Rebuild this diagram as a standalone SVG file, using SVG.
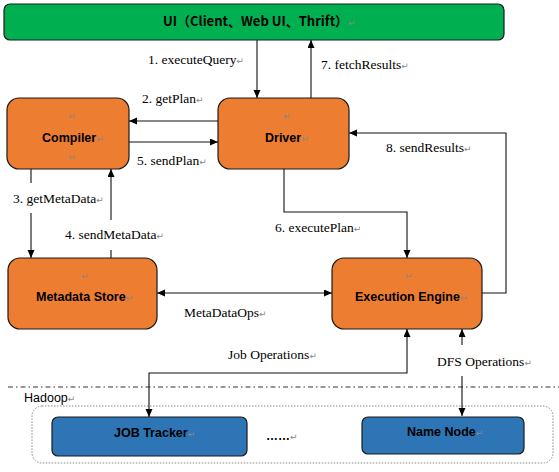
<svg xmlns="http://www.w3.org/2000/svg" width="559" height="472" viewBox="0 0 559 472">
<defs>
<marker id="ah" markerWidth="9" markerHeight="8" refX="8" refY="3.5" orient="auto-start-reverse" markerUnits="userSpaceOnUse">
<path d="M0,0 L8,3.5 L0,7 z" fill="#000"/>
</marker>
<style>
.box{stroke:#1a1a1a;stroke-width:1.2}
.orange{fill:#ED7D31}
.green{fill:#00B050}
.blue{fill:#2E75B6}
.nt{font-family:"Liberation Sans",Arial,sans-serif;font-weight:bold;font-size:12.5px;fill:#000}
.lb{font-family:"Liberation Serif","Times New Roman",serif;font-size:13.5px;fill:#000}
.pm{font-family:"DejaVu Sans",sans-serif;font-size:9px;fill:#888;font-weight:normal}
.cn{fill:none;stroke:#111;stroke-width:1.1}
.arr{marker-end:url(#ah)}
.both{marker-start:url(#ah);marker-end:url(#ah)}
</style>
</defs>
<rect width="559" height="472" fill="#fff"/>

<g id="hadoop-area">
<line x1="8" y1="387" x2="559" y2="387" stroke="#333" stroke-width="1" stroke-dasharray="5,3,1.5,3"/>
<rect x="32" y="406" width="521" height="57" rx="10" fill="none" stroke="#888" stroke-width="1" stroke-dasharray="1.5,1.5"/>
<text x="24" y="402" font-family="'Liberation Sans',Arial,sans-serif" font-size="12.5" fill="#000">Hadoop<tspan class="pm">↵</tspan></text>
</g>

<g id="connectors">
<path class="cn arr" d="M257,40 V98"/>
<path class="cn arr" d="M311,98 V40"/>
<path class="cn arr" d="M218,121 H129"/>
<path class="cn arr" d="M129,142 H218"/>
<path class="cn arr" d="M31,169 V183 M31,213 V258"/>
<path class="cn arr" d="M111,258 V250 M111,220 V169"/>
<path class="cn arr" d="M284,169 V212 H407 V258"/>
<path class="cn arr" d="M482,293 H506 V133 H349"/>
<path class="cn both" d="M157,293 H332"/>
<path class="cn both" d="M407,329 V373 H149 V417"/>
<path class="cn both" d="M462,329 V345 M462,376 V416"/>
</g>

<g id="labels">
<text class="lb" x="148" y="64">1. executeQuery<tspan class="pm">↵</tspan></text>
<text class="lb" x="321" y="69">7. fetchResults<tspan class="pm">↵</tspan></text>
<text class="lb" x="142" y="103">2. getPlan<tspan class="pm">↵</tspan></text>
<text class="lb" x="137" y="165">5. sendPlan<tspan class="pm">↵</tspan></text>
<text class="lb" x="13" y="203">3. getMetaData<tspan class="pm">↵</tspan></text>
<text class="lb" x="65" y="239">4. sendMetaData<tspan class="pm">↵</tspan></text>
<text class="lb" x="275" y="232">6. executePlan<tspan class="pm">↵</tspan></text>
<text class="lb" x="386" y="152">8. sendResults<tspan class="pm">↵</tspan></text>
<text class="lb" x="184" y="317">MetaDataOps<tspan class="pm">↵</tspan></text>
<text class="lb" x="228" y="359">Job Operations<tspan class="pm">↵</tspan></text>
<text class="lb" x="437" y="366">DFS Operations<tspan class="pm">↵</tspan></text>
</g>

<g id="ui">
<rect class="box green" x="4" y="4" width="500" height="36" rx="6"/>
<text x="163" y="26" font-family="'Noto Sans CJK SC','Liberation Sans',sans-serif" font-weight="bold" font-size="13" fill="#000">UI（Client、Web UI、Thrift）<tspan class="pm">↵</tspan></text>
</g>

<g id="compiler">
<rect class="box orange" x="7" y="98" width="122" height="71" rx="12"/>
<text class="pm" x="68" y="119">↵</text>
<text class="nt" x="42" y="142">Compiler<tspan class="pm">↵</tspan></text>
<text class="pm" x="68" y="160">↵</text>
</g>

<g id="driver">
<rect class="box orange" x="218" y="98" width="131" height="71" rx="12"/>
<text class="pm" x="283" y="119">↵</text>
<text class="nt" x="265" y="142">Driver<tspan class="pm">↵</tspan></text>
</g>

<g id="metadata-store">
<rect class="box orange" x="8" y="258" width="149" height="71" rx="12"/>
<text class="pm" x="81" y="279">↵</text>
<text class="nt" x="36" y="301">Metadata Store<tspan class="pm">↵</tspan></text>
</g>

<g id="execution-engine">
<rect class="box orange" x="332" y="258" width="150" height="71" rx="12"/>
<text class="pm" x="405" y="279">↵</text>
<text class="nt" x="355" y="301">Execution Engine<tspan class="pm">↵</tspan></text>
</g>

<g id="job-tracker">
<rect class="box blue" x="52" y="417" width="195" height="39" rx="6"/>
<text class="nt" x="114" y="437">JOB Tracker<tspan class="pm">↵</tspan></text>
</g>

<g id="dots">
<text x="266" y="440" font-family="'Liberation Sans',Arial,sans-serif" font-weight="bold" font-size="12" fill="#000">……<tspan class="pm">↵</tspan></text>
</g>

<g id="name-node">
<rect class="box blue" x="362" y="417" width="162" height="37" rx="6"/>
<text class="nt" x="407" y="436">Name Node<tspan class="pm">↵</tspan></text>
</g>
</svg>
